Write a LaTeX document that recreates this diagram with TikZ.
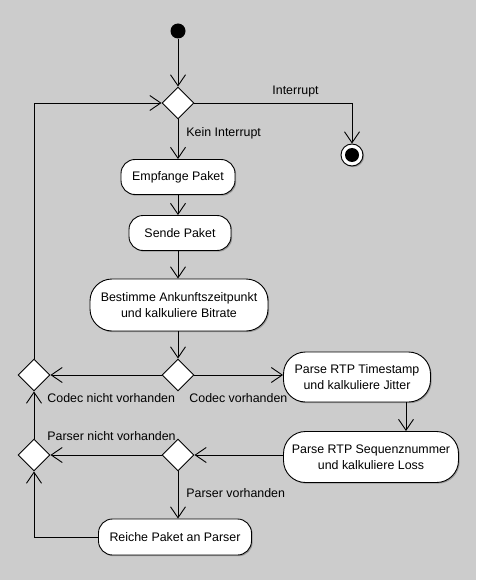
\documentclass[tikz,border=0pt]{standalone}
\usepackage{fontspec}
\setmainfont{Liberation Sans}
\usepackage{tikz}
\usetikzlibrary{shapes.geometric}
\usetikzlibrary{shadows}
\usetikzlibrary{arrows.meta}
\usepackage{xcolor}
\definecolor{bg}{RGB}{204,204,204}

\begin{document}
\begin{tikzpicture}[x=1pt,y=-1pt,line width=.9pt,
  font=\fontsize{12.4}{16}\selectfont,
  shade/.style={drop shadow={shadow xshift=1.2pt,shadow yshift=-1.2pt,fill=black!40,opacity=1}},
  act/.style={draw,fill=white,rounded corners=14pt,align=center,inner sep=0pt,shade},
  dec/.style={draw,fill=white,diamond,minimum width=32pt,minimum height=32pt,inner sep=0pt},
  flow/.style={-{Straight Barb[length=11pt,width=15pt]}},
  lbl/.style={inner sep=0pt,anchor=west}]
\useasboundingbox (0,0) rectangle (476,580);
\fill[bg] (0,0) rectangle (476,580);

\node[circle,fill,minimum size=15pt,inner sep=0pt] (start) at (178,31) {};
\node[dec] (d1) at (178,103) {};
\node[circle,draw,fill=white,minimum size=22pt,inner sep=0pt,shade] (stop) at (352,155) {};
\fill (stop) circle (7pt);
\node[act,minimum width=114pt,minimum height=35pt] (empf) at (178,177) {Empfange Paket};
\node[act,minimum width=102pt,minimum height=35pt] (sende) at (180,233) {Sende Paket};
\node[act,minimum width=178pt,minimum height=52pt,rounded corners=22pt] (best) at (179,305)
  {Bestimme Ankunftszeitpunkt\\und kalkuliere Bitrate};
\node[dec] (d2) at (178,375) {};
\node[dec] (d3) at (34,375) {};
\node[act,minimum width=147pt,minimum height=50pt,rounded corners=22pt] (ts) at (357,377)
  {Parse RTP Timestamp\\und kalkuliere Jitter};
\node[act,minimum width=175pt,minimum height=51pt,rounded corners=22pt] (sq) at (371,457)
  {Parse RTP Sequenznummer\\und kalkuliere Loss};
\node[dec] (d4) at (178,455) {};
\node[dec] (d5) at (34,455) {};
\node[act,minimum width=153pt,minimum height=36pt] (reiche) at (175,537) {Reiche Paket an Parser};

% labels
\node[lbl] (lint) at (272,92) {Interrupt};
\node[lbl] (lkein) at (186,133) {Kein Interrupt};
\node[lbl] (lcnv) at (47,398) {Codec nicht vorhanden};
\node[lbl] (lcv) at (189,398) {Codec vorhanden};
\node[lbl] (lpnv) at (47,436) {Parser nicht vorhanden};
\node[lbl] (lpv) at (186,493) {Parser vorhanden};

\draw[flow] (start) -- (d1.north);
\draw[flow] (d1.east) -| (stop.north);
\draw[flow] (d1.south) -- (empf.north);
\draw[flow] (empf.south) -- (empf.south |- sende.north);
\draw[flow] (sende.south -| empf.south) -- (empf.south |- best.north);
\draw[flow] (best.south -| d2.north) -- (d2.north);
\draw[flow] (d2.east) -- (ts.west |- d2.east);
\draw[flow] (d2.west) -- (d3.east);
\draw[flow] ([xshift=49pt]ts.south) -- ([xshift=35pt]sq.north);
\draw[flow] (sq.west |- d4.east) -- (d4.east);
\draw[flow] (d4.west) -- (d5.east);
\draw[flow] (d4.south) -- (d4.south |- reiche.north);
\draw[flow] (reiche.west) -| (d5.south);
\draw[flow] (d5.north) -- (d3.south);
\draw[flow] (d3.north) |- (d1.west);
\end{tikzpicture}
\end{document}
